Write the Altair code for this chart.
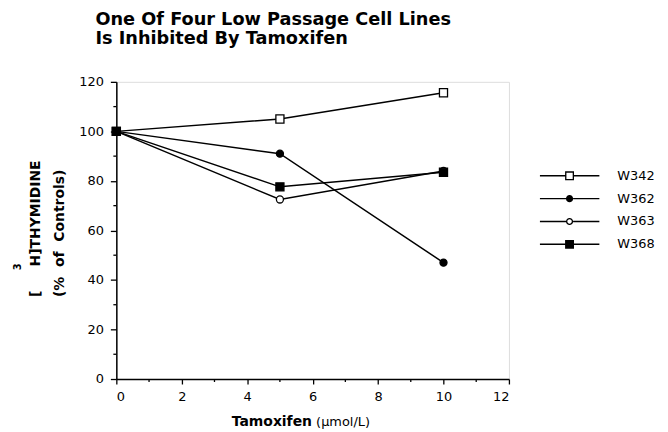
import altair as alt
import pandas as pd

dose = [0, 5, 10]
series_names = ["W342", "W362", "W363", "W368"]
w342 = [100, 105, 115.6]
w362 = [100, 91, 47]
w363 = [100, 72.5, 84]
w368 = [100, 77.6, 83.5]

open_series = ["W342", "W363"]
filled_series = ["W362", "W368"]
square_series = ["W342", "W368"]
circle_series = ["W362", "W363"]

x_major = [0, 2, 4, 6, 8, 10, 12]
x_minor = [1, 3, 5, 7, 9, 11]
y_major = [0, 20, 40, 60, 80, 100, 120]
y_minor = [10, 30, 50, 70, 90, 110]

rows = []
for name, vals in zip(series_names, [w342, w362, w363, w368]):
    for d, v in zip(dose, vals):
        rows.append({"series": name, "dose": d, "value": v})
df = pd.DataFrame(rows)

FONT = "DejaVu Sans"
NB = "\u00a0"

x_enc = alt.X(
    "dose:Q",
    scale=alt.Scale(domain=[0, 12], nice=False),
    axis=alt.Axis(
        values=x_major, tickSize=5,
        title="Tamoxifen",
        titleFont=FONT, titleFontSize=14, titleFontWeight="bold",
        titleX=156, titleY=47, titleAlign="center", titleBaseline="alphabetic",
        labelFont=FONT, labelFontSize=13, labelPadding=7,
        grid=False, domainColor="black", domainWidth=1.5,
        tickColor="black", tickWidth=1.3, labelColor="black", titleColor="black",
    ),
)
y_enc = alt.Y(
    "value:Q",
    scale=alt.Scale(domain=[0, 120], nice=False),
    axis=alt.Axis(
        values=y_major, tickSize=6,
        title=["[" + NB * 5 + "H]THYMIDINE", "(%" + NB * 2 + "of" + NB * 2 + "Controls)"],
        titleFont=FONT, titleFontSize=14, titleFontWeight="bold",
        titleAngle=270, titleAlign="left", titleBaseline="top",
        titleX=-88, titleY=216, titleLineHeight=24,
        labelFont=FONT, labelFontSize=13, labelPadding=7,
        grid=False, domainColor="black", domainWidth=1.5,
        tickColor="black", tickWidth=1.3, labelColor="black", titleColor="black",
    ),
)

base = alt.Chart(df)

lines = base.mark_line(color="black", strokeWidth=1.5).encode(
    x=x_enc, y=y_enc, detail="series:N"
)

def pts(sel, shape, fill, size):
    return base.transform_filter(
        alt.FieldOneOfPredicate(field="series", oneOf=sel)
    ).mark_point(shape=shape, fill=fill, stroke="black", strokeWidth=1.3,
                 size=size, opacity=1, filled=False).encode(x="dose:Q", y="value:Q")

open_sq = pts([s for s in open_series if s in square_series], "square", "white", 66)
open_ci = pts([s for s in open_series if s in circle_series], "circle", "white", 50)
fill_sq = pts([s for s in filled_series if s in square_series], "square", "black", 66)
fill_ci = pts([s for s in filled_series if s in circle_series], "circle", "black", 50)

# minor ticks positioned through the shared scales
ymin_df = pd.DataFrame({"value": y_minor})
y_minor_ticks = alt.Chart(ymin_df).mark_rule(color="black", strokeWidth=1.3).encode(
    y="value:Q", x=alt.value(-3), x2=alt.value(0)
)
xmin_df = pd.DataFrame({"dose": x_minor})
x_minor_ticks = alt.Chart(xmin_df).mark_rule(color="black", strokeWidth=1.3).encode(
    x="dose:Q", y=alt.value(299), y2=alt.value(302)
)

# legend symbols: line segments + marker, drawn as filled paths
def seg(h):
    return f"M-1,-0.025H-{h}V0.025H-1ZM{h},-0.025H1V0.025H{h}Z"

sq_out = "M-0.15,-0.15H0.15V0.15H-0.15Z"
sq_in = "M-0.105,-0.105V0.105H0.105V-0.105Z"
ci_out = "M-0.12,0A0.12,0.12,0,1,0,0.12,0A0.12,0.12,0,1,0,-0.12,0Z"
ci_in = "M-0.075,0A0.075,0.075,0,1,1,0.075,0A0.075,0.075,0,1,1,-0.075,0Z"
legend_shapes = [
    seg(0.15) + sq_out + sq_in,   # W342 open square
    seg(0.12) + ci_out,           # W362 filled circle
    seg(0.12) + ci_out + ci_in,   # W363 open circle
    seg(0.15) + sq_out,           # W368 filled square
]

legend_layer = base.mark_point(opacity=0, filled=True, color="black").encode(
    x="dose:Q", y="value:Q",
    shape=alt.Shape("series:N", scale=alt.Scale(domain=series_names, range=legend_shapes),
                    legend=alt.Legend(
                        title=None, orient="none", legendX=426, legendY=83,
                        symbolSize=3600, symbolOpacity=1, symbolFillColor="black",
                        symbolStrokeWidth=0, clipHeight=23, rowPadding=0,
                        labelOffset=18, labelFont=FONT, labelFontSize=13,
                        labelColor="black", padding=0)),
)

unit_df = pd.DataFrame({"t": ["(μmol/L)"]})
unit_text = alt.Chart(unit_df).mark_text(
    font=FONT, fontSize=13, align="left", baseline="alphabetic", color="black"
).encode(x=alt.value(201), y=alt.value(346), text="t:N")

sup_df = pd.DataFrame({"t": ["3"]})
sup_text = alt.Chart(sup_df).mark_text(
    font=FONT, fontSize=10, fontWeight="bold", align="center", baseline="middle",
    angle=270, color="black"
).encode(x=alt.value(-99), y=alt.value(186), text="t:N")

chart = alt.layer(
    lines, open_sq, open_ci, fill_sq, fill_ci, y_minor_ticks, x_minor_ticks,
    legend_layer, unit_text, sup_text
).properties(
    width=395, height=299,
    autosize=alt.AutoSizeParams(type="none"),
    padding={"left": 109, "top": 73, "right": 152, "bottom": 51},
    title=alt.TitleParams(
        text=["One Of Four Low Passage Cell Lines", "Is Inhibited By Tamoxifen"],
        font=FONT, fontSize=17.8, fontWeight="bold", anchor="start", frame="group",
        dx=-21, dy=2, offset=30, lineHeight=19, color="black", baseline="top",
    ),
).configure_view(stroke=None).configure(background="white")

chart.save("out.html", embed_options={"renderer": "svg", "actions": False})
